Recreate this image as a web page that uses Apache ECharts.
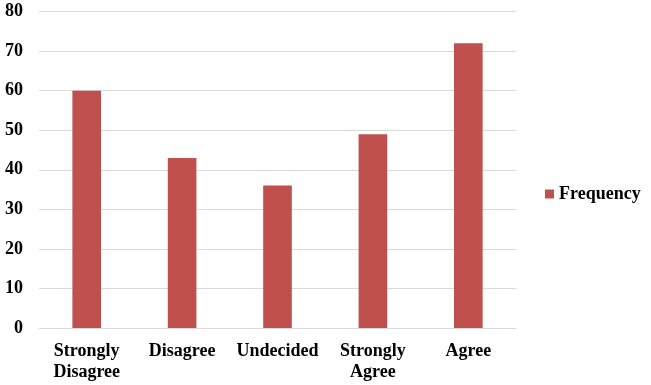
<!DOCTYPE html>
<html>
<head>
<meta charset="utf-8">
<script src="https://cdn.jsdelivr.net/npm/echarts@6/dist/echarts.min.js"></script>
<style>html,body{margin:0;padding:0;background:#fff;}#c{width:651px;height:385px;}</style>
</head>
<body>
<div id="c"></div>
<script>
const categories = ['Strongly\nDisagree', 'Disagree', 'Undecided', 'Strongly\nAgree', 'Agree'];
const frequency = [60, 43, 36, 49, 72];
const yTicks = [0, 10, 20, 30, 40, 50, 60, 70, 80];

const chart = echarts.init(document.getElementById('c'), null, {renderer: 'canvas'});
const font = 'Liberation Serif';
chart.setOption({
  animation: false,
  backgroundColor: '#fff',
  grid: {left: 39, right: 135, top: 11.5, bottom: 57, containLabel: false},
  legend: {
    data: ['Frequency'],
    orient: 'vertical',
    left: 545, top: 185, padding: 0,
    icon: 'rect', itemWidth: 9, itemHeight: 9, itemGap: 5,
    textStyle: {fontFamily: font, fontWeight: 'bold', fontSize: 18, color: '#000', padding: [0, 0, 0, 0]}
  },
  xAxis: {
    type: 'category',
    data: categories,
    axisLine: {show: true, lineStyle: {color: '#d9d9d9', width: 1}},
    axisTick: {show: false},
    axisLabel: {fontFamily: font, fontWeight: 'bold', fontSize: 18, color: '#000', margin: 13, lineHeight: 21, interval: 0}
  },
  yAxis: {
    type: 'value',
    min: yTicks[0], max: yTicks[yTicks.length - 1], interval: 10,
    axisLine: {show: false},
    axisTick: {show: false},
    splitLine: {lineStyle: {color: '#d9d9d9', width: 1}},
    axisLabel: {fontFamily: font, fontWeight: 'bold', fontSize: 18, color: '#000', margin: 16}
  },
  series: [{
    name: 'Frequency',
    type: 'bar',
    data: frequency,
    barWidth: '30%',
    itemStyle: {color: '#C0504D'}
  }]
});
</script>
</body>
</html>
